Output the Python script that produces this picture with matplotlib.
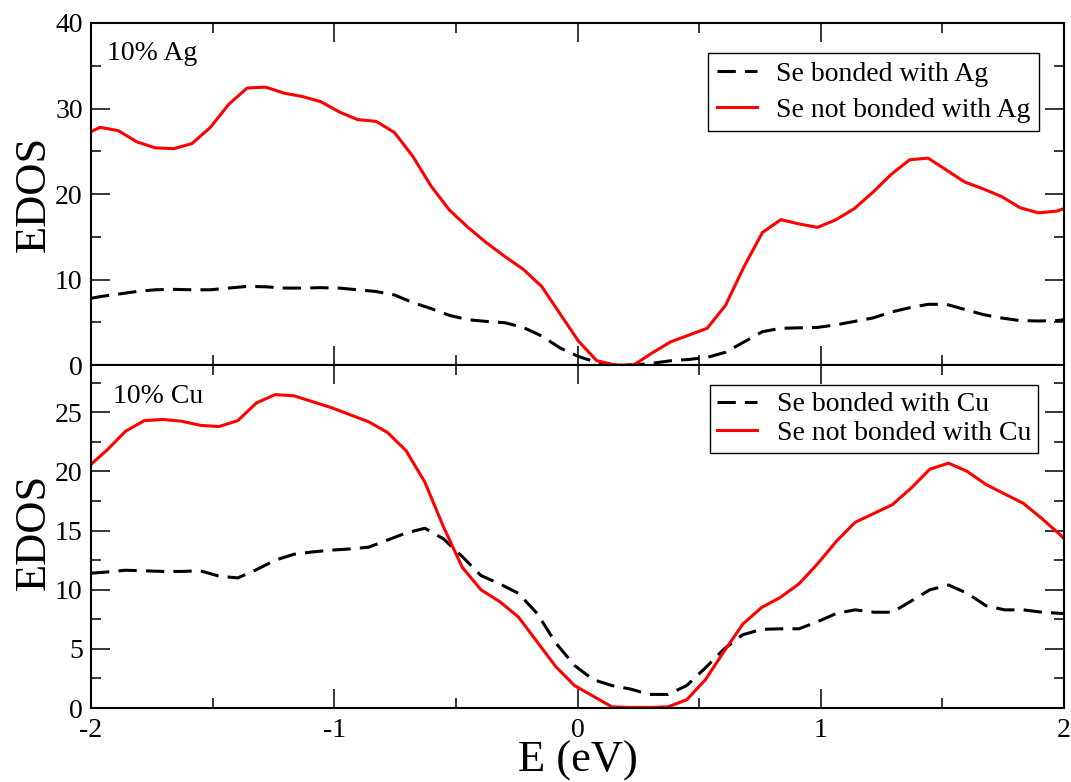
import numpy as np
import matplotlib
matplotlib.use("Agg")
import matplotlib.pyplot as plt
from matplotlib.ticker import MultipleLocator

plt.rcParams['font.family'] = ['Liberation Serif', 'DejaVu Serif']
plt.rcParams['axes.unicode_minus'] = False

# energy grids (eV)
E_ag = np.concatenate([[-2.0], -1.963 + 0.07564 * np.arange(53), [2.0]])
E_cu = np.concatenate([[-2.0], -1.935 + 0.0769 * np.arange(52), [2.0]])

# 10% Ag panel
ag_bonded = [7.8, 8.0, 8.3, 8.6, 8.8, 8.85, 8.8, 8.8, 9.0, 9.2, 9.15, 9.0, 9.0, 9.05,
             9.0, 8.8, 8.6, 8.2, 7.3, 6.6, 5.8, 5.3, 5.1, 4.95, 4.4, 3.4, 2.0, 1.0,
             0.3, 0.0, 0.0, 0.2, 0.5, 0.65, 0.9, 1.5, 2.7, 3.9, 4.3, 4.35, 4.4, 4.7,
             5.1, 5.5, 6.2, 6.7, 7.1, 7.1, 6.5, 5.9, 5.5, 5.2, 5.15, 5.2, 5.3]
ag_not_bonded = [27.3, 27.8, 27.4, 26.1, 25.4, 25.3, 25.9, 27.8, 30.5, 32.4, 32.5, 31.8,
                 31.4, 30.8, 29.6, 28.7, 28.5, 27.2, 24.4, 20.9, 18.1, 16.1, 14.3, 12.7,
                 11.2, 9.2, 6.0, 2.8, 0.5, 0.0, 0.0, 1.4, 2.7, 3.5, 4.3, 7.0, 11.5, 15.5,
                 17.0, 16.5, 16.1, 17.0, 18.3, 20.2, 22.3, 24.0, 24.2, 22.8, 21.4, 20.6,
                 19.7, 18.4, 17.8, 18.0, 18.3]

# 10% Cu panel
cu_bonded = [11.4, 11.5, 11.65, 11.6, 11.55, 11.55, 11.6, 11.15, 11.0, 11.7, 12.5, 13.0,
             13.2, 13.35, 13.45, 13.6, 14.2, 14.8, 15.2, 14.3, 12.8, 11.2, 10.5, 9.7,
             8.0, 5.5, 3.6, 2.4, 1.9, 1.6, 1.15, 1.15, 1.9, 3.4, 5.0, 6.2, 6.65, 6.7,
             6.7, 7.3, 8.0, 8.3, 8.1, 8.1, 9.05, 10.0, 10.4, 9.7, 8.65, 8.3, 8.3, 8.1,
             8.0, 8.0]
cu_not_bonded = [20.6, 21.8, 23.4, 24.3, 24.4, 24.25, 23.9, 23.8, 24.3, 25.8, 26.5, 26.4,
                 25.9, 25.4, 24.8, 24.2, 23.3, 21.75, 19.1, 15.3, 11.9, 10.0, 9.0, 7.7,
                 5.6, 3.5, 1.9, 1.0, 0.1, 0.05, 0.05, 0.1, 0.7, 2.4, 4.8, 7.1, 8.5, 9.35,
                 10.5, 12.2, 14.1, 15.7, 16.45, 17.2, 18.6, 20.2, 20.7, 20.0, 18.9, 18.1,
                 17.3, 16.0, 14.6, 14.3]

FS = 20
fig = plt.figure(figsize=(10.71, 7.82), dpi=100)
ax1 = fig.add_axes([0.085, 0.5332, 0.9085, 0.4374])
ax2 = fig.add_axes([0.085, 0.0946, 0.9085, 0.4386])


def style(ax):
    ax.set_xlim(-2, 2)
    ax.xaxis.set_major_locator(MultipleLocator(1))
    ax.xaxis.set_minor_locator(MultipleLocator(0.5))
    ax.tick_params(which='both', direction='in', top=True, right=True,
                   width=1.1, labelsize=FS)
    ax.tick_params(which='major', length=13.5)
    ax.tick_params(which='minor', length=7)
    ax.tick_params(axis='x', pad=7)
    ax.tick_params(axis='y', pad=6)
    for s in ax.spines.values():
        s.set_linewidth(1.5)


def legend(ax, anchor, bpad, lspace):
    leg = ax.legend(loc='upper right', bbox_to_anchor=anchor, fontsize=FS,
                    frameon=True, fancybox=False, edgecolor='black', framealpha=1,
                    handlelength=1.45, handletextpad=0.7, borderpad=bpad,
                    labelspacing=lspace, borderaxespad=0)
    leg.get_frame().set_linewidth(1.0)
    return leg


for ax in (ax1, ax2):
    style(ax)

ax1.plot(E_ag, ag_bonded, color='black', lw=2.2, ls=(0, (6, 3)), label='Se bonded with Ag')
ax1.plot(E_ag, ag_not_bonded, color='red', lw=2.2, label='Se not bonded with Ag')
ax1.set_ylim(0, 40)
ax1.yaxis.set_major_locator(MultipleLocator(10))
ax1.yaxis.set_minor_locator(MultipleLocator(5))
ax1.tick_params(axis='x', labelbottom=False)
ax1.set_ylabel('EDOS', fontsize=32)
ax1.yaxis.set_label_coords(-0.038, 0.5)
ax1.text(0.0164, 0.892, '10% Ag', transform=ax1.transAxes, fontsize=FS)
legend(ax1, (0.9743, 0.913), 0.3, 0.38)

ax2.plot(E_cu, cu_bonded, color='black', lw=2.2, ls=(0, (6, 3)), label='Se bonded with Cu')
ax2.plot(E_cu, cu_not_bonded, color='red', lw=2.2, label='Se not bonded with Cu')
ax2.set_ylim(0, 29)
ax2.yaxis.set_major_locator(MultipleLocator(5))
ax2.yaxis.set_minor_locator(MultipleLocator(2.5))
ax2.set_ylabel('EDOS', fontsize=32)
ax2.yaxis.set_label_coords(-0.038, 0.514)
ax2.set_xlabel('E (eV)', fontsize=32)
ax2.xaxis.set_label_coords(0.5, -0.096)
ax2.text(0.023, 0.888, '10% Cu', transform=ax2.transAxes, fontsize=FS)
legend(ax2, (0.9733, 0.9417), 0.25, 0.1)

fig.savefig('out.png', dpi=100)
